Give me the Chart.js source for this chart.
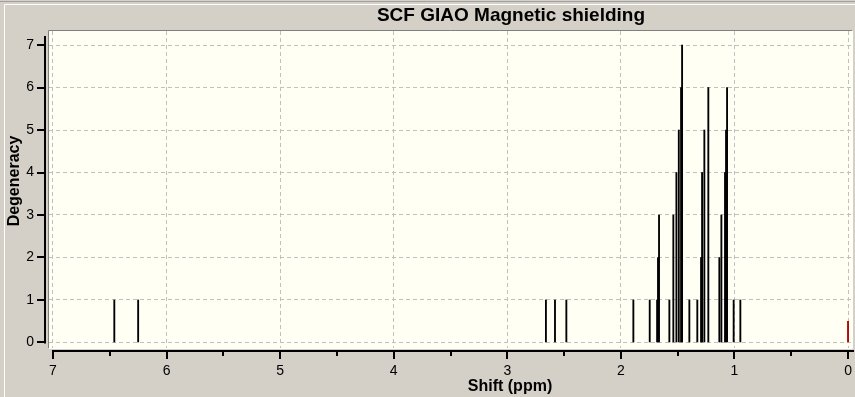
<!DOCTYPE html>
<html>
<head>
<meta charset="utf-8">
<script src="https://cdn.jsdelivr.net/npm/chart.js@4/dist/chart.umd.min.js"></script>
<style>
html,body{margin:0;padding:0;background:#D4D0C8;}
#wrap{width:855px;height:397px;position:relative;}
</style>
</head>
<body>
<div id="wrap"><canvas id="c" width="855" height="397"></canvas></div>
<script>
// ---- data ----
const chartTitle = 'SCF GIAO Magnetic shielding';
const xAxisTitle = 'Shift (ppm)';
const yAxisTitle = 'Degeneracy';
const shifts = [6.46, 6.25, 2.66, 2.58, 2.48, 1.89, 1.746, 1.681, 1.673, 1.664,
                1.573, 1.538, 1.511, 1.490, 1.470, 1.461, 1.397, 1.327, 1.294, 1.285,
                1.265, 1.230, 1.133, 1.115, 1.083, 1.074, 1.065, 1.007, 0.948];
const degeneracy = [1, 1, 1, 1, 1, 1, 1, 1, 2, 3,
                    1, 3, 4, 5, 6, 7, 1, 1, 2, 4,
                    5, 6, 2, 3, 4, 5, 6, 1, 1];
const refShift = [0];
const refHeight = [0.5];
const xTickValues = [0, 1, 2, 3, 4, 5, 6, 7];
const yTickValues = [0, 1, 2, 3, 4, 5, 6, 7];

const FONT = '"Liberation Sans", Arial, sans-serif';

const decor = {
  id: 'decor',
  beforeDraw(chart) {
    const ctx = chart.ctx, a = chart.chartArea;
    ctx.save();
    ctx.fillStyle = '#D4D0C8';
    ctx.fillRect(0, 0, chart.width, chart.height);
    ctx.strokeStyle = '#FFFFFF';
    ctx.lineWidth = 1;
    ctx.beginPath();
    ctx.moveTo(4.5, chart.height); ctx.lineTo(4.5, 4.5); ctx.lineTo(chart.width, 4.5);
    ctx.stroke();
    ctx.strokeStyle = '#A0A0A0';
    ctx.beginPath();
    ctx.moveTo(0, 1.5); ctx.lineTo(chart.width, 1.5);
    ctx.stroke();
    ctx.fillStyle = '#FFFFF4';
    ctx.fillRect(a.left, a.top, a.right - a.left, a.bottom - a.top);
    ctx.strokeStyle = '#808080';
    ctx.beginPath();
    ctx.moveTo(a.left - 0.5, a.bottom); ctx.lineTo(a.left - 0.5, a.top - 0.5); ctx.lineTo(a.right, a.top - 0.5);
    ctx.stroke();
    ctx.strokeStyle = '#FFFFFF';
    ctx.beginPath();
    ctx.moveTo(a.left, a.bottom + 0.5); ctx.lineTo(a.right + 0.5, a.bottom + 0.5); ctx.lineTo(a.right + 0.5, a.top);
    ctx.stroke();
    ctx.restore();
  },
  afterDraw(chart) {
    const ctx = chart.ctx, a = chart.chartArea;
    const xs = chart.scales.x, ys = chart.scales.y;
    ctx.save();
    ctx.strokeStyle = '#000000';
    ctx.lineWidth = 2;
    const yx = a.left - 4;
    const yTop = ys.getPixelForValue(yTickValues[yTickValues.length - 1]) - 9;
    const yBot = ys.getPixelForValue(yTickValues[0]);
    ctx.beginPath();
    ctx.moveTo(yx, yTop); ctx.lineTo(yx, yBot + 1);
    yTickValues.forEach(v => {
      const p = Math.round(ys.getPixelForValue(v));
      ctx.moveTo(yx - 8, p); ctx.lineTo(yx, p);
    });
    ctx.stroke();
    const xy = a.bottom + 3;
    const xl = xs.getPixelForValue(xTickValues[xTickValues.length - 1]);
    ctx.beginPath();
    ctx.moveTo(xl - 1, xy); ctx.lineTo(a.right + 2, xy);
    xTickValues.forEach(v => {
      const p = Math.round(xs.getPixelForValue(v));
      ctx.moveTo(p, xy); ctx.lineTo(p, xy + 8);
    });
    for (let i = 0; i < xTickValues.length - 1; i++) {
      const p = Math.round(xs.getPixelForValue((xTickValues[i] + xTickValues[i + 1]) / 2));
      ctx.moveTo(p, xy); ctx.lineTo(p, xy + 5);
    }
    ctx.stroke();
    ctx.fillStyle = '#000000';
    ctx.textAlign = 'center';
    ctx.textBaseline = 'middle';
    ctx.font = 'bold 19px ' + FONT;
    ctx.fillText(chartTitle, 511, 16);
    ctx.font = 'bold 16px ' + FONT;
    ctx.fillText(xAxisTitle, 510, 387);
    ctx.translate(15, 181);
    ctx.rotate(-Math.PI / 2);
    ctx.fillText(yAxisTitle, 0, 0);
    ctx.restore();
  }
};

new Chart(document.getElementById('c'), {
  type: 'bar',
  data: {
    datasets: [
      {
        data: shifts.map((s, i) => ({ x: s, y: degeneracy[i] })),
        backgroundColor: '#000000',
        borderWidth: 0,
        barThickness: 1.2,
        grouped: false
      },
      {
        data: refShift.map((s, i) => ({ x: s, y: refHeight[i] })),
        backgroundColor: '#B00000',
        borderWidth: 0,
        barThickness: 1.2,
        grouped: false
      }
    ]
  },
  plugins: [decor],
  options: {
    responsive: false,
    animation: false,
    devicePixelRatio: 1,
    layout: { padding: { left: 0, right: 3, top: 31, bottom: 0 } },
    plugins: { legend: { display: false }, title: { display: false }, tooltip: { enabled: false } },
    scales: {
      x: {
        type: 'linear',
        reverse: true,
        offset: false,
        min: -0.035,
        max: 7.035,
        afterBuildTicks: s => { s.ticks = xTickValues.map(v => ({ value: v })); },
        afterFit: s => { s.height = 49; },
        grid: { color: '#C0C0C0', lineWidth: 1, drawTicks: false, offset: false },
        border: { display: false, dash: [4, 3] },
        ticks: { color: '#000000', font: { family: FONT, size: 14 }, padding: 15, maxRotation: 0, autoSkip: false }
      },
      y: {
        type: 'linear',
        min: -0.13,
        max: 7.33,
        afterBuildTicks: s => { s.ticks = yTickValues.map(v => ({ value: v })); },
        afterFit: s => { s.width = 49; },
        grid: { color: '#C0C0C0', lineWidth: 1, drawTicks: false },
        border: { display: false, dash: [4, 3] },
        ticks: { color: '#000000', font: { family: FONT, size: 14 }, padding: 15 }
      }
    }
  }
});
</script>
</body>
</html>
